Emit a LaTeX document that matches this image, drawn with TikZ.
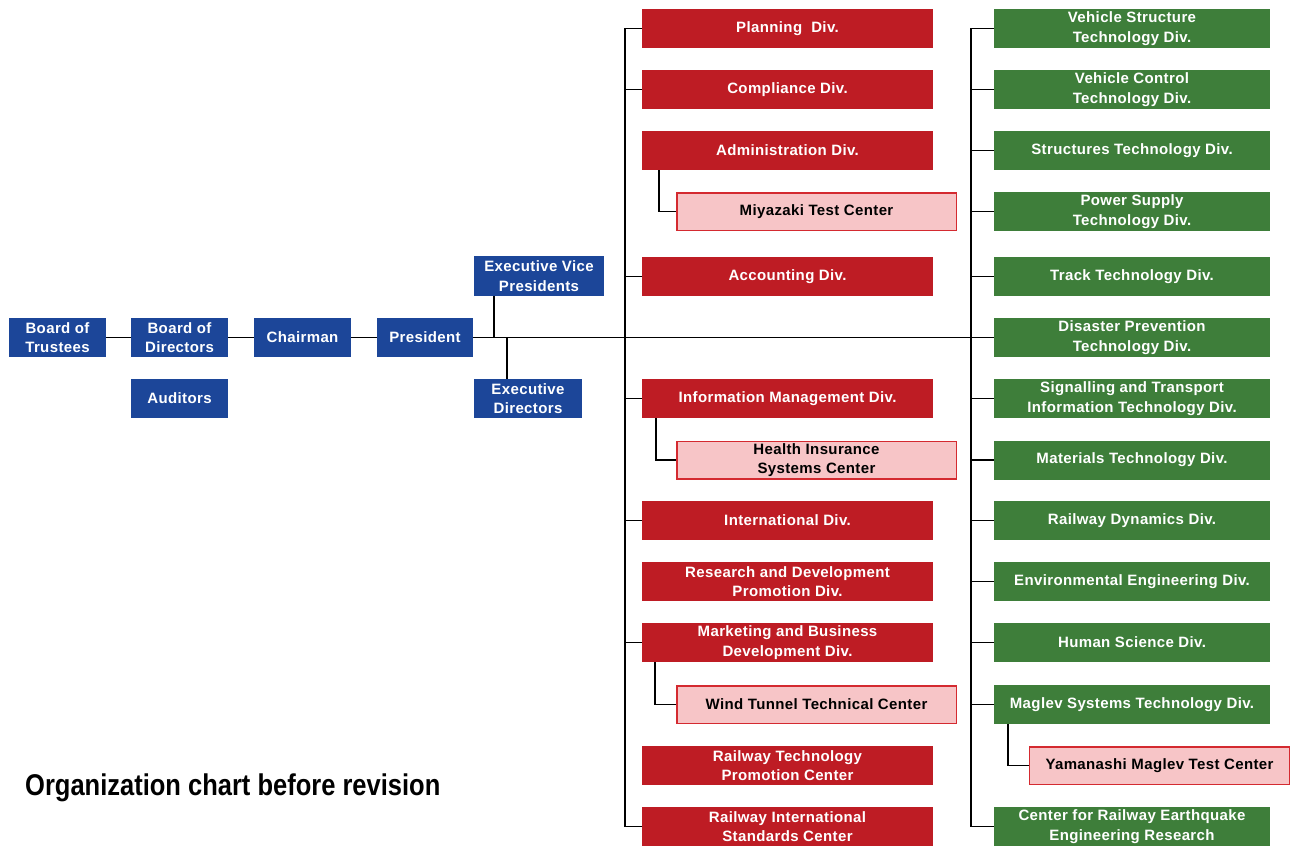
\documentclass[tikz,border=0pt]{standalone}
\usepackage{fontspec}
\setmainfont{Liberation Sans}
\newfontfamily\boxfont[LetterSpace=2.5]{Liberation Sans}
\usetikzlibrary{calc}
\definecolor{cblue}{HTML}{1C4699}
\definecolor{cred}{HTML}{BE1C24}
\definecolor{cgreen}{HTML}{3E7E3A}
\definecolor{cpink}{HTML}{F7C5C7}
\definecolor{cpinkb}{HTML}{D42A30}
\tikzset{
  box/.style={rectangle, inner sep=0pt, align=center, text=white,
    font=\boxfont\fontsize{15}{19.5}\selectfont\bfseries},
  bluebox/.style={box, fill=cblue},
  redbox/.style={box, fill=cred, minimum width=291pt, minimum height=39pt},
  greenbox/.style={box, fill=cgreen, minimum width=276pt, minimum height=39pt},
  pinkbox/.style={box, fill=cpink, draw=cpinkb, line width=1.5pt, text=black,
    minimum height=37.5pt},
  conn/.style={draw=black, line width=1.9pt},
}
\begin{document}
\begin{tikzpicture}[x=1pt,y=-1pt]
\useasboundingbox (0,0) rectangle (1291,848);
% blue
\node[bluebox, minimum width=97pt, minimum height=39pt] (bt) at (57.5,337.5) {Board of\\Trustees};
\node[bluebox, minimum width=97pt, minimum height=39pt] (bd) at (179.5,337.5) {Board of\\Directors};
\node[bluebox, minimum width=97pt, minimum height=39pt] (ch) at (302.5,337.5) {Chairman};
\node[bluebox, minimum width=96pt, minimum height=39pt] (pr) at (425,337.5) {President};
\node[bluebox, minimum width=97pt, minimum height=39pt] (au) at (179.5,398.5) {Auditors};
\node[bluebox, minimum width=130pt, minimum height=40pt] (evp) at (539,276) {Executive Vice\\Presidents};
\node[bluebox, minimum width=108pt, minimum height=39pt] (ed) at (528,398.5) {Executive\\Directors};
% red
\node[redbox] (r1) at (787.5,28.5) {Planning\ \ Div.};
\node[redbox] (r2) at (787.5,89.5) {Compliance Div.};
\node[redbox] (r3) at (787.5,150.5) {Administration Div.};
\node[pinkbox, minimum width=279.5pt] (p1) at (816.5,211.5) {Miyazaki Test Center};
\node[redbox] (r4) at (787.5,276.5) {Accounting Div.};
\node[redbox] (r5) at (787.5,398.5) {Information Management Div.};
\node[pinkbox, minimum width=279.5pt] (p2) at (816.5,460) {Health Insurance\\Systems Center};
\node[redbox] (r6) at (787.5,520.5) {International Div.};
\node[redbox] (r7) at (787.5,581.5) {Research and Development\\Promotion Div.};
\node[redbox] (r8) at (787.5,642.5) {Marketing and Business\\Development Div.};
\node[pinkbox, minimum width=279.5pt] (p3) at (816.5,704.5) {Wind Tunnel Technical Center};
\node[redbox] (r9) at (787.5,765.5) {Railway Technology\\Promotion Center};
\node[redbox] (r10) at (787.5,826.5) {Railway International\\Standards Center};
% green
\node[greenbox] (g1) at (1132,28.5) {Vehicle Structure\\Technology Div.};
\node[greenbox] (g2) at (1132,89.5) {Vehicle Control\\Technology Div.};
\node[greenbox] (g3) at (1132,150.5) {Structures Technology Div.};
\node[greenbox] (g4) at (1132,211.5) {Power Supply\\Technology Div.};
\node[greenbox] (g5) at (1132,276.5) {Track Technology Div.};
\node[greenbox] (g6) at (1132,337.5) {Disaster Prevention\\Technology Div.};
\node[greenbox] (g7) at (1132,398.5) {Signalling and Transport\\Information Technology Div.};
\node[greenbox] (g8) at (1132,460) {Materials Technology Div.};
\node[greenbox] (g9) at (1132,520.5) {Railway Dynamics Div.};
\node[greenbox] (g10) at (1132,581.5) {Environmental Engineering Div.};
\node[greenbox] (g11) at (1132,642.5) {Human Science Div.};
\node[greenbox] (g12) at (1132,704.5) {Maglev Systems Technology Div.};
\node[pinkbox, minimum width=260pt] (p4) at (1159.5,765.5) {Yamanashi Maglev Test Center};
\node[greenbox] (g13) at (1132,826.5) {Center for Railway Earthquake\\Engineering Research};
% title
\node[anchor=base west, inner sep=0pt, font=\fontsize{30}{36}\selectfont\bfseries] (title) at (25,795)
  {\scalebox{0.85}[1]{Organization chart before revision}};
% connectors
\coordinate (evpj) at (494,337.5);
\coordinate (edj) at (507,337.5);
\coordinate (rs) at (625,0);
\coordinate (gs) at (971,0);
\coordinate (a3) at (659,0);
\coordinate (a5) at (656,0);
\coordinate (a8) at (655,0);
\coordinate (a12) at (1008,0);
\draw[conn] (bt) -- (bd);
\draw[conn] (bd) -- (ch);
\draw[conn] (ch) -- (pr);
\draw[conn] (pr) -- (g6);
\draw[conn] (evpj) -- (evpj |- evp.south);
\draw[conn] (edj) -- (edj |- ed.north);
% red spine
\draw[conn] (r1.west -| rs) -- (r10.west -| rs);
\foreach \n in {r1,r2,r4,r5,r6,r8,r10} \draw[conn] (\n.west) -- (\n.west -| rs);
\draw[conn] (r3.south -| a3) |- (p1.west);
\draw[conn] (r5.south -| a5) |- (p2.west);
\draw[conn] (r8.south -| a8) |- (p3.west);
% green spine
\draw[conn] (g1.west -| gs) -- (g13.west -| gs);
\foreach \n in {g1,g2,g3,g4,g5,g7,g8,g9,g10,g11,g12,g13} \draw[conn] (\n.west) -- (\n.west -| gs);
\draw[conn] (g12.south -| a12) |- (p4.west);
\end{tikzpicture}
\end{document}
